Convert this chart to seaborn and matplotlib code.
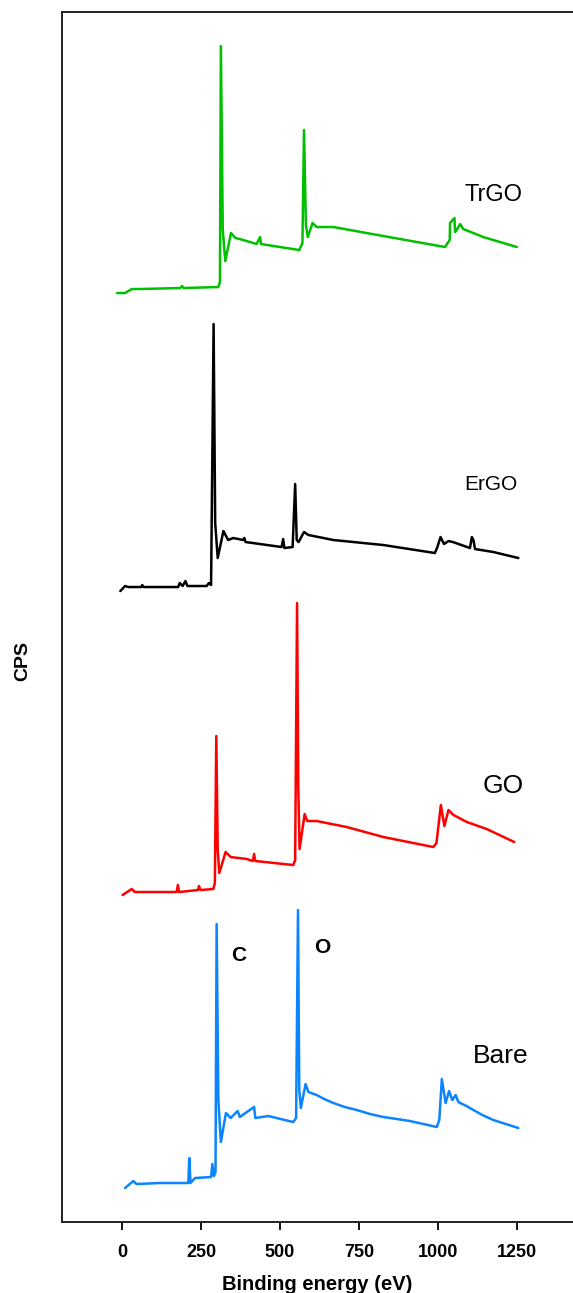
import numpy as np
import pandas as pd
import matplotlib
matplotlib.use('Agg')
import matplotlib.pyplot as plt
import seaborn as sns

# XPS survey spectra (binding energy in eV, stacked CPS in arbitrary units)
bare_e = [10, 36, 46, 120, 210, 213, 217, 231, 282, 286, 291, 296, 299.6, 305, 313, 329, 344,
          366, 373, 418, 422, 463, 542, 551, 557, 561, 566, 581, 590, 616, 640, 669, 705, 743, 785,
          827, 870, 911, 996, 1004, 1012, 1024, 1035, 1045, 1056, 1064, 1090, 1112, 1140, 1175, 1254]
bare_y = [34, 41, 38, 39, 39, 64, 39, 44, 45, 58, 46, 50, 298, 122, 80, 109, 104,
          111, 105, 115, 104, 106, 100, 104, 312, 132, 114, 138, 130, 127, 123, 119, 115, 112, 108,
          105, 103, 101, 95, 102, 143, 119, 131, 122, 127, 120, 116, 112, 107, 102, 94]

go_e = [2, 31, 41, 173, 177, 181, 240, 244, 248, 289, 294, 298.5, 303, 308, 328, 344, 395,
        414, 418, 422, 542, 548, 554, 558, 562, 578, 586, 616, 711, 827, 985, 995, 1009, 1020,
        1033, 1049, 1091, 1154, 1241]
go_y = [327, 333, 330, 330, 337, 330, 332, 336, 332, 333, 339, 486, 372, 349, 370, 365, 363,
        361, 368, 361, 357, 362, 619, 432, 373, 408, 401, 401, 395, 385, 375, 379, 417, 396,
        412, 407, 400, 393, 380]

ergo_e = [-5, 10, 20, 62, 64, 68, 178, 183, 192, 201, 207, 268, 275, 282, 290, 295, 303, 321,
          336, 352, 384, 387, 391, 505, 510, 514, 540, 548, 553, 559, 576, 590, 669, 827, 990,
          998, 1008, 1019, 1033, 1047, 1101, 1107, 1112, 1117, 1175, 1254]
ergo_y = [631, 636, 635, 635, 637, 635, 635, 639, 636, 641, 636, 636, 639, 637, 898, 699, 664, 691,
          682, 684, 682, 684, 680, 675, 683, 674, 675, 738, 682, 680, 690, 687, 682, 677, 669,
          675, 685, 678, 681, 680, 674, 685, 682, 673, 670, 664]

trgo_e = [-15, 10, 31, 57, 184, 190, 195, 305, 310, 313, 319, 327, 345, 359, 373, 426, 437, 440,
          500, 561, 571, 576, 582, 588, 603, 616, 669, 774, 880, 1022, 1037, 1038, 1052, 1054,
          1061, 1070, 1080, 1143, 1249]
trgo_y = [929, 929, 933, 933, 934, 936, 934, 935, 940, 1176, 992, 961, 989, 984, 983, 978, 985, 978,
          975, 972, 979, 1092, 997, 985, 999, 995, 995, 989, 983, 975, 982, 999, 1004, 990,
          993, 998, 993, 985, 975]

samples = ['TrGO', 'ErGO', 'GO', 'Bare']
colors = ['#00c000', '#000000', '#ff0000', '#0a84ff']
label_e = [1177, 1168, 1206, 1199]
label_y = [1027, 738, 436, 166]
label_size = [17, 15, 19, 19]

peak_names = ['C', 'O']
peak_e = [370, 633]
peak_y = [267, 275]

frames = []
for name, e, y in [('TrGO', trgo_e, trgo_y), ('ErGO', ergo_e, ergo_y),
                   ('GO', go_e, go_y), ('Bare', bare_e, bare_y)]:
    frames.append(pd.DataFrame({'energy': e, 'cps': y, 'sample': name}))
df = pd.concat(frames, ignore_index=True)

sns.set_style('ticks')
plt.rcParams['font.family'] = ['Liberation Sans', 'DejaVu Sans']
plt.rcParams['text.color'] = 'black'
plt.rcParams['axes.labelcolor'] = 'black'
plt.rcParams['xtick.color'] = 'black'

fig = plt.figure(figsize=(5.73, 12.93), dpi=100)
ax = fig.add_axes([0.108, 0.0549, 0.892, 0.9358])

for name, c in zip(samples, colors):
    sns.lineplot(data=df[df['sample'] == name], x='energy', y='cps', color=c,
                 linewidth=1.8, sort=False, estimator=None, ax=ax)

for name, e, y, s in zip(samples, label_e, label_y, label_size):
    ax.text(e, y, name, fontsize=s, ha='center', va='center', color='black')
for name, e, y in zip(peak_names, peak_e, peak_y):
    ax.text(e, y, name, fontsize=15, fontweight='bold', ha='center', va='center')

ax.set_xlim(-190, 1427)
ax.set_ylim(0, 1210)
ax.set_xticks([0, 250, 500, 750, 1000, 1250])
ax.set_yticks([])
ax.tick_params(axis='x', length=6, width=1.3, labelsize=13, pad=10)
for lab in ax.get_xticklabels():
    lab.set_fontweight('bold')
ax.set_xlabel('Binding energy (eV)', fontsize=14.5, fontweight='bold', labelpad=10)
ax.set_ylabel('CPS', fontsize=14, fontweight='bold')
ax.yaxis.set_label_coords(-0.059, 0.464)
ax.spines['right'].set_visible(False)
for sp in ['left', 'top', 'bottom']:
    ax.spines[sp].set_linewidth(1.4)
    ax.spines[sp].set_color('#222222')

fig.savefig('out.png', dpi=100)
